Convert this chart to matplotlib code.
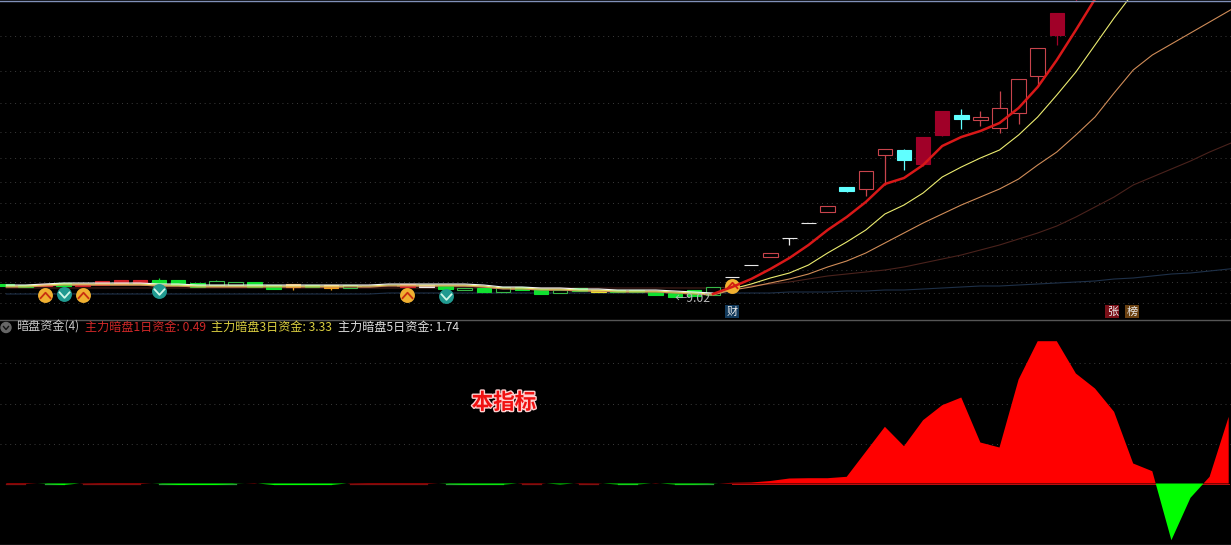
import numpy as np
import matplotlib
matplotlib.use("Agg")
import matplotlib.pyplot as plt
import matplotlib.patheffects as pe
from matplotlib.path import Path

plt.rcParams['font.family'] = ['Noto Sans CJK SC', 'DejaVu Sans']

# 柱序号: -2 到 54, 纵坐标为主图自上而下的读数
bar_idx = np.arange(-2, 55)
kinds = list("ggpgpppp" "ggghh" "ggogo" "hkk" "pwg" "hghgg" "hgy" "ggggg" "h"
             "wwrwwrcrrcRRcrrrrRR")
body_top = [284, 285, 284, 283, 284, 281, 280, 280, 280, 280, 283, 281, 282, 282, 285, 284, 285, 285, 285, 285, 285,
            284, 285, 286, 288, 288, 287, 287, 289, 290, 288, 290, 290, 290, 292, 293, 290, 287,
            277, 265, 253, 238, 223, 206, 187, 171, 149, 150, 137, 111, 115, 117, 108, 79, 48, 13, -40]
body_bot = [286, 287, 286, 286, 286, 285, 284, 283, 283, 285, 287, 285, 285, 287, 289, 287, 287, 288, 288, 286, 286,
            287, 287, 289, 290, 292, 292, 290, 294, 293, 291, 292, 292, 292, 295, 297, 296, 295,
            277, 265, 257, 238, 223, 212, 191, 189, 155, 160, 164, 135, 119, 120, 128, 113, 76, 35, -10]
wick_high = [284, 285, 284, 283, 284, 281, 280, 280, 278, 280, 283, 280, 282, 282, 285, 284, 285, 285, 285, 283, 283,
             284, 285, 286, 288, 288, 287, 287, 289, 290, 288, 290, 290, 290, 292, 293, 290, 287,
             277, 265, 253, 238, 223, 206, 187, 171, 149, 149, 137, 111, 109, 111, 91, 79, 48, 13, -40]
wick_low = [286, 287, 286, 286, 286, 285, 284, 283, 283, 285, 287, 285, 285, 287, 289, 290, 287, 290, 288, 286, 286,
            287, 287, 289, 290, 292, 292, 290, 294, 293, 291, 292, 292, 292, 295, 297, 296, 295,
            277, 265, 257, 245, 223, 212, 192, 196, 185, 170, 166, 136, 129, 126, 133, 124, 86, 45, 1]

# 均线
ma_idx = np.arange(-2, 64)
ma_left = [285, 285, 284, 283, 283, 283, 283, 283, 284, 284, 285, 285, 285, 285, 285, 285, 285, 285, 285, 285, 284, 284,
           284, 284, 284, 285, 287, 287, 288, 288, 289, 289, 290, 290, 290, 291, 292, 293]
ma5 = [294] + [287, 279, 269, 258, 245, 230, 217, 202, 184, 178, 165, 146, 137, 131, 123, 108, 87, 60, 30, -1,
               -34, -70, -110, -150, -190, -230, -270, -310]
ma10 = [v + 1 for v in ma_left] + [289, 284, 278, 273, 265, 253, 242, 230, 214, 205, 193, 177, 167, 158, 150, 135, 117,
                                   95, 72, 45, 18, -7, -35, -65, -95, -125, -155, -185]
ma20 = [v + 2 for v in ma_left] + [290, 287, 283, 279, 274, 267, 261, 253, 243, 233, 223, 214, 205, 197, 189, 179, 165,
                                   152, 135, 117, 93, 70, 55, 44, 33, 22, 11, 0]
ma60 = [288] * 38 + [287, 286, 284, 282, 279, 276, 274, 272, 270, 267, 263, 259, 255, 250, 245, 239, 233, 226, 217, 207,
                     197, 185, 177, 169, 161, 152, 144, 136]
ma120 = [294] * 20 + [293] * 18 + [293, 293, 293, 292, 292, 292, 291, 291, 290, 290, 289, 288, 287, 286, 286, 285, 284,
                                   283, 282, 281, 279, 278, 276, 274, 273, 271, 269, 267]

# 副图 暗盘资金
fund_idx = np.arange(-2, 63)
fund = [0.5, 0.5, -0.3, -1.5, 0.3, 0.5, 0.5, 0.5, -0.3, -1.5, -1.5, -1.5, -0.3, 0.3, -1.5, -1.5, -1.5, -1.5, 0.3,
        0.5, 0.5, 0.5, 0.5, -0.3, -1.2, -1.2, -1.2, 0.4, 0.4, -1, 0.4, 0.3, -1, -1, 0.3, -1, -1, -0.3,
        0.7, 1, 2.5, 5, 5.3, 5.3, 6.7, 31.7, 56.7, 37.3, 63.3, 78.3, 86, 41, 36, 104, 142.3, 142.3,
        110, 95, 71.7, 20, 12.3, -56.7, -14.3, 6.7, 66.7]

# 信号点
up_sig = [0, 2, 19]
up_sig_y = [295, 295, 295]
down_sig = [1, 6, 21]
down_sig_y = [294, 291, 296]
main_grid = [36, 71, 103, 132, 158, 182, 203, 222, 239, 256, 270, 282, 293, 303]
sub_grid = [121, 80, 40]

COLORS = {'g': '#10e030', 'h': '#38b848', 'p': '#d02028', 'o': '#f0a020', 'k': '#301010', 'w': '#e8e8e8',
          'y': '#e8e030', 'r': '#c8444c', 'R': '#a00028', 'c': '#60ffff'}
FILLED = "gpoRcwy"
W, H = 1231, 545
STEP, X0 = 19.1, 44.5
XLIM = (-X0 / STEP, (W - X0) / STEP)

fig = plt.figure(figsize=(W / 100, H / 100), dpi=100, facecolor='black')
ax = fig.add_axes([0, 1 - 320 / H, 1, 320 / H])
ax2 = fig.add_axes([0, 0, 1, 225 / H])
for a in (ax, ax2):
    a.set_facecolor('black')
    a.set_xlim(*XLIM)
    a.set_xticks([])
    a.set_yticks([])
    for s in a.spines.values():
        s.set_visible(False)
ax.set_ylim(320, 0)
ax2.set_ylim(-61.5, 163.5)

# 网格
for y in main_grid:
    ax.axhline(y, color='#3c3c3c', lw=0.7, ls=(0, (1, 4)), zorder=1)
for y in sub_grid:
    ax2.axhline(y, color='#3c3c3c', lw=0.7, ls=(0, (1, 4)), zorder=1)

# 均线先画在K线下面的部分
ax.plot(ma_idx[:38], np.array(ma20[:38]), color='#d08c58', lw=0.9, zorder=2)
ax.plot(ma_idx, ma120, color='#1e3048', lw=0.8, zorder=2)
ax.plot(ma_idx, ma60, color='#4a221c', lw=0.8, zorder=2)

# K线
for i, k, t, b, hi, lo in zip(bar_idx, kinds, body_top, body_bot, wick_high, wick_low):
    c = COLORS[k]
    ax.vlines(i, hi, lo, color=c, lw=0.9, zorder=2.5)
    ax.bar(i, b - t, bottom=t, width=0.76, facecolor=c if k in FILLED else 'black', edgecolor=c, lw=0.8, zorder=3)

ax.plot(ma_idx, ma20, color='#d08c58', lw=0.8, zorder=4)
ax.plot(ma_idx, ma10, color='#ecec70', lw=0.8, zorder=4)
ax.plot(ma_idx[:38], ma_left, color='#f4f4f4', lw=0.8, zorder=4)
ax.plot(ma_idx[37:], ma5, color='#d81818', lw=1.8, zorder=5)

# 信号
chevron_up = Path([(-1, -0.6), (0, 0.5), (1, -0.6)])
chevron_down = Path([(-1, 0.5), (0, -0.6), (1, 0.5)])
ax.scatter(up_sig, up_sig_y, s=115, color='#f0b030', zorder=6, lw=0)
ax.plot(up_sig, up_sig_y, ls='', marker=chevron_up, ms=8, mfc='none', mec='#c83010', mew=1.3, zorder=7)
ax.scatter(down_sig, down_sig_y, s=115, color='#209a90', zorder=6, lw=0)
ax.plot(down_sig, down_sig_y, ls='', marker=chevron_down, ms=8, mfc='none', mec='#d0f8e8', mew=1.3, zorder=7)
ax.scatter([36], [286], s=115, color='#f0b030', zorder=4.5, lw=0)
ax.plot([36], [285], ls='', marker=chevron_up, ms=8, mfc='none', mec='#d02010', mew=1.3, zorder=7)

ax.text(33.0, 298, "←9.02", color='#b8b8b8', fontsize=8.8, va='center', ha='left', zorder=8)
for idx, txt, bg in [(36, "财", '#123a5c'), (55.9, "张", '#7a1018'), (56.95, "榜", '#6a4010')]:
    ax.text(idx, 311.5, txt, color='#e8e8e8', fontsize=8, ha='center', va='center',
            bbox=dict(facecolor=bg, edgecolor='none', pad=1.2), zorder=8)

# 副图面积
fund = np.array(fund)
ax2.fill_between(fund_idx, 0, fund, where=fund >= 0, interpolate=True, color='#ff0000', lw=0, zorder=3)
ax2.fill_between(fund_idx, 0, fund, where=fund <= 0, interpolate=True, color='#00ff00', lw=0, zorder=3)
ax2.plot(fund_idx[:38], np.where(fund[:38] >= 0, 0, np.nan), color='#801010', lw=0.9, zorder=2)
ax2.plot(fund_idx[:38], np.where(fund[:38] < 0, 0, np.nan), color='#28a038', lw=0.9, zorder=2)
ax2.plot(fund_idx[38:], np.zeros(len(fund) - 38), color='#c01010', lw=0.7, zorder=2)

# 标题栏
def head(px, txt, color):
    fig.text(px / W, 1 - 327.5 / H, txt, color=color, fontsize=8.7, va='center', ha='left')

fig.patches.append(plt.Circle((6, H - 327.5), 5, transform=None, color='#666666'))
fig.add_artist(plt.Line2D([3.5 / W, 6 / W, 8.5 / W], [1 - 326.5 / H, 1 - 329.5 / H, 1 - 326.5 / H], color='#111111', lw=1))
head(16, "暗盘资金(4)", '#c8c8c8')
head(85, "主力暗盘1日资金: 0.49", '#d02828')
head(211, "主力暗盘3日资金: 3.33", '#dcd040')
head(338, "主力暗盘5日资金: 1.74", '#e0e0e0')

ax2.text(24.05, 81, "本指标", color='#f01010', fontsize=15.5, fontweight='bold', ha='center', va='center',
         path_effects=[pe.withStroke(linewidth=2, foreground='#ffd0d0')], zorder=8)

# 分隔线和边框
fig.add_artist(plt.Line2D([0, 1], [1 - 319.5 / H] * 2, color='#555555', lw=1))
fig.add_artist(plt.Line2D([0, 1], [1 - 0.5 / H] * 2, color='#8090b8', lw=1))
fig.add_artist(plt.Line2D([0, 1], [0.5 / H] * 2, color='#555555', lw=1))

fig.savefig("out.png", dpi=100, facecolor='black')
